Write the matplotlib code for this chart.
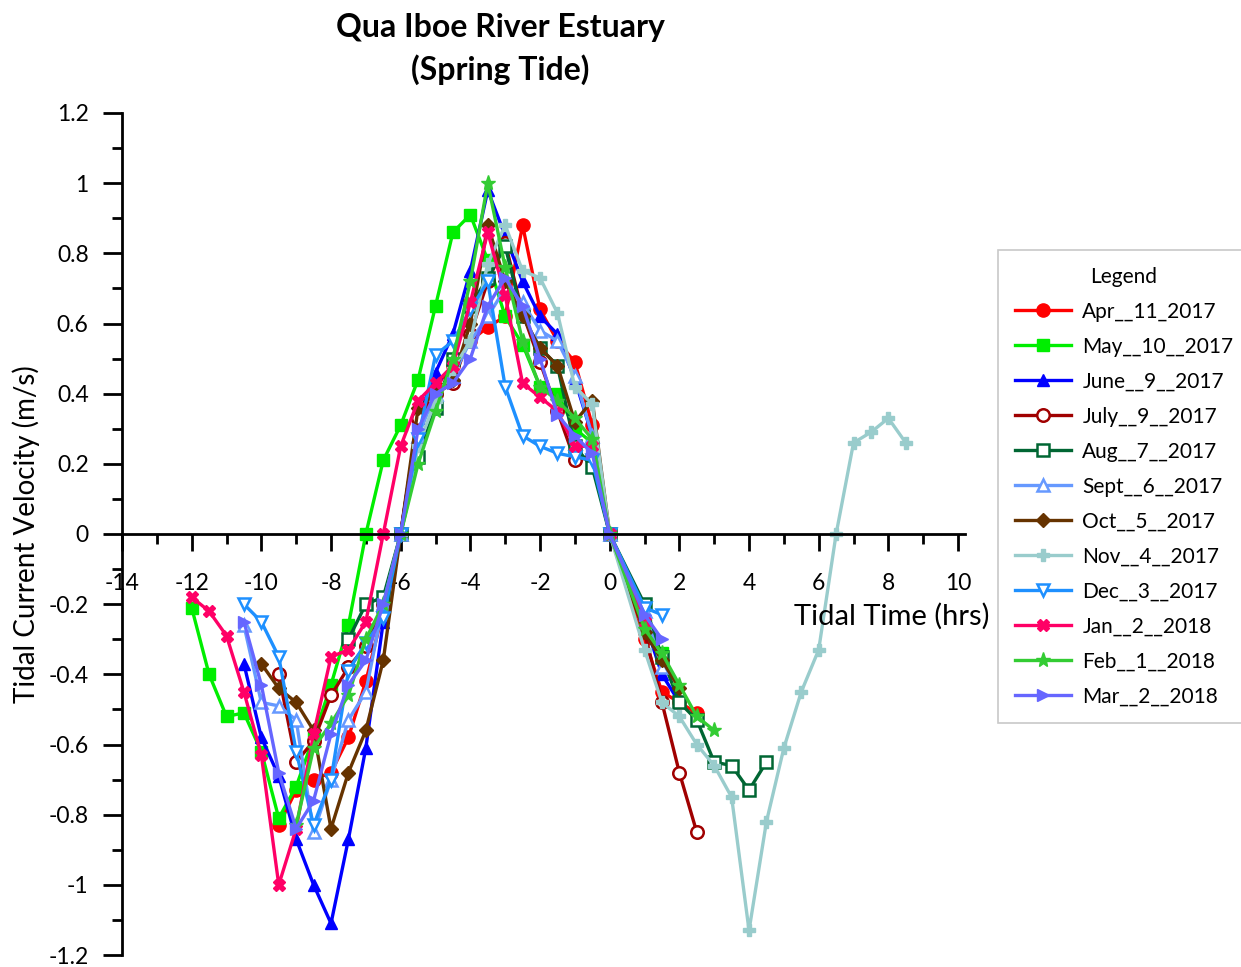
import matplotlib
matplotlib.use("Agg")
import matplotlib.pyplot as plt
from matplotlib.ticker import MultipleLocator, FuncFormatter

plt.rcParams['font.family'] = ['Lato', 'DejaVu Sans']

# tidal time (hrs) and current velocity (m/s) for each survey
apr_x = [-9.5, -9, -8.5, -8, -7.5, -7, -6.5, -6, -5.5, -5, -4.5, -4, -3.5, -3, -2.5, -2, -1.5, -1, -0.5, 0, 1, 1.5, 2, 2.5]
apr_y = [-0.83, -0.73, -0.70, -0.68, -0.58, -0.42, -0.22, 0, 0.33, 0.42, 0.48, 0.55, 0.59, 0.62, 0.88, 0.64, 0.55, 0.49, 0.31, 0, -0.30, -0.45, -0.48, -0.51]

may_x = [-12, -11.5, -11, -10.5, -10, -9.5, -9, -8.5, -8, -7.5, -7, -6.5, -6, -5.5, -5, -4.5, -4, -3.5, -3, -2.5, -2, -1.5, -1, -0.5, 0, 1, 1.5]
may_y = [-0.21, -0.40, -0.52, -0.51, -0.62, -0.81, -0.72, -0.58, -0.43, -0.26, 0, 0.21, 0.31, 0.44, 0.65, 0.86, 0.91, 0.78, 0.62, 0.54, 0.42, 0.40, 0.30, 0.26, 0, -0.26, -0.34]

jun_x = [-10.5, -10, -9.5, -9, -8.5, -8, -7.5, -7, -6.5, -6, -5.5, -5, -4.5, -4, -3.5, -3, -2.5, -2, -1.5, -1, -0.5, 0, 1, 1.5, 2]
jun_y = [-0.37, -0.58, -0.69, -0.87, -1.0, -1.11, -0.87, -0.61, -0.25, 0, 0.33, 0.46, 0.57, 0.75, 0.98, 0.85, 0.72, 0.62, 0.57, 0.44, 0.28, 0, -0.25, -0.40, -0.48]

jul_x = [-9.5, -9, -8.5, -8, -7.5, -7, -6.5, -6, -5.5, -5, -4.5, -4, -3.5, -3, -2.5, -2, -1.5, -1, -0.5, 0, 1, 1.5, 2, 2.5]
jul_y = [-0.40, -0.65, -0.59, -0.46, -0.38, -0.32, -0.20, 0, 0.33, 0.40, 0.43, 0.57, 0.72, 0.83, 0.63, 0.49, 0.35, 0.21, 0.22, 0, -0.28, -0.48, -0.68, -0.85]

aug_x = [-7.5, -7, -6.5, -6, -5.5, -5, -4.5, -4, -3.5, -3, -2.5, -2, -1.5, -1, -0.5, 0, 1, 1.5, 2, 2.5, 3, 3.5, 4, 4.5]
aug_y = [-0.30, -0.20, -0.18, 0, 0.22, 0.36, 0.50, 0.65, 0.73, 0.82, 0.62, 0.53, 0.48, 0.25, 0.19, 0, -0.20, -0.35, -0.48, -0.53, -0.65, -0.66, -0.73, -0.65]

sep_x = [-10.5, -10, -9.5, -9, -8.5, -8, -7.5, -7, -6.5, -6, -5.5, -5, -4.5, -4, -3.5, -3, -2.5, -2, -1.5, -1, -0.5, 0, 1, 1.5]
sep_y = [-0.26, -0.48, -0.49, -0.53, -0.85, -0.70, -0.53, -0.45, -0.20, 0, 0.28, 0.40, 0.45, 0.55, 0.62, 0.70, 0.66, 0.58, 0.55, 0.45, 0.28, 0, -0.22, -0.38]

oct_x = [-10, -9.5, -9, -8.5, -8, -7.5, -7, -6.5, -6, -5.5, -5, -4.5, -4, -3.5, -3, -2.5, -2, -1.5, -1, -0.5, 0, 1, 1.5, 2]
oct_y = [-0.37, -0.44, -0.48, -0.56, -0.84, -0.68, -0.56, -0.36, 0, 0.36, 0.40, 0.44, 0.60, 0.88, 0.72, 0.62, 0.53, 0.48, 0.32, 0.38, 0, -0.28, -0.36, -0.44]

nov_x = [-6, -5.5, -5, -4.5, -4, -3.5, -3, -2.5, -2, -1.5, -1, -0.5, 0, 1, 1.5, 2, 2.5, 3, 3.5, 4, 4.5, 5, 5.5, 6, 6.5, 7, 7.5, 8, 8.5]
nov_y = [0, 0.25, 0.38, 0.47, 0.55, 0.77, 0.88, 0.75, 0.73, 0.63, 0.42, 0.37, 0, -0.33, -0.48, -0.52, -0.60, -0.66, -0.75, -1.13, -0.82, -0.61, -0.45, -0.33, 0, 0.26, 0.29, 0.33, 0.26]

dec_x = [-10.5, -10, -9.5, -9, -8.5, -8, -7.5, -7, -6.5, -6, -5.5, -5, -4.5, -4, -3.5, -3, -2.5, -2, -1.5, -1, -0.5, 0, 1, 1.5]
dec_y = [-0.20, -0.25, -0.35, -0.62, -0.83, -0.70, -0.39, -0.31, -0.24, 0, 0.27, 0.51, 0.55, 0.64, 0.72, 0.42, 0.28, 0.25, 0.23, 0.22, 0.21, 0, -0.21, -0.23]

jan_x = [-12, -11.5, -11, -10.5, -10, -9.5, -9, -8.5, -8, -7.5, -7, -6.5, -6, -5.5, -5, -4.5, -4, -3.5, -3, -2.5, -2, -1.5, -1, -0.5, 0, 1]
jan_y = [-0.18, -0.22, -0.29, -0.45, -0.63, -1.0, -0.84, -0.57, -0.35, -0.33, -0.25, 0, 0.25, 0.38, 0.43, 0.48, 0.66, 0.86, 0.68, 0.43, 0.39, 0.35, 0.25, 0.25, 0, -0.25]

feb_x = [-9, -8.5, -8, -7.5, -7, -6.5, -6, -5.5, -5, -4.5, -4, -3.5, -3, -2.5, -2, -1.5, -1, -0.5, 0, 1, 1.5, 2, 2.5, 3]
feb_y = [-0.83, -0.61, -0.54, -0.46, -0.30, -0.20, 0, 0.20, 0.35, 0.50, 0.72, 1.0, 0.76, 0.55, 0.42, 0.38, 0.33, 0.27, 0, -0.27, -0.34, -0.43, -0.52, -0.56]

mar_x = [-10.5, -10, -9.5, -9, -8.5, -8, -7.5, -7, -6.5, -6, -5.5, -5, -4.5, -4, -3.5, -3, -2.5, -2, -1.5, -1, -0.5, 0, 1, 1.5]
mar_y = [-0.25, -0.43, -0.68, -0.84, -0.76, -0.57, -0.43, -0.36, -0.20, 0, 0.30, 0.40, 0.43, 0.50, 0.65, 0.73, 0.65, 0.50, 0.34, 0.28, 0.23, 0, -0.23, -0.30]

labels = ['Apr__11_2017', 'May__10__2017', 'June__9__2017', 'July__9__2017', 'Aug__7__2017',
          'Sept__6__2017', 'Oct__5__2017', 'Nov__4__2017', 'Dec__3__2017', 'Jan__2__2018',
          'Feb__1__2018', 'Mar__2__2018']

series = [(apr_x, apr_y), (may_x, may_y), (jun_x, jun_y), (jul_x, jul_y), (aug_x, aug_y),
          (sep_x, sep_y), (oct_x, oct_y), (nov_x, nov_y), (dec_x, dec_y), (jan_x, jan_y),
          (feb_x, feb_y), (mar_x, mar_y)]

# colour, marker, filled?, marker size
styles = [
    ('#FF0000', 'o', True, 9.5),
    ('#00EE00', 's', True, 9),
    ('#0000FF', '^', True, 9),
    ('#A00000', 'o', False, 9),
    ('#006633', 's', False, 9),
    ('#6699FF', '^', False, 9),
    ('#663300', 'D', True, 7),
    ('#99CCCC', 'P', True, 9),
    ('#1E90FF', 'v', False, 9),
    ('#FF0066', 'X', True, 9),
    ('#33CC33', '*', True, 11),
    ('#6666FF', '>', True, 9),
]

fig = plt.figure(figsize=(12.41, 9.67), dpi=100)
ax = fig.add_axes([122 / 1241, 12 / 967, (965 - 122) / 1241, (955 - 113) / 967])

for (xs, ys), lab, (col, mk, filled, ms) in zip(series, labels, styles):
    ax.plot(xs, ys, color=col, lw=2.4, marker=mk, ms=ms, label=lab,
            markerfacecolor=col if filled else 'white', markeredgecolor=col,
            markeredgewidth=1.8 if not filled else 1.0)

ax.set_xlim(-14, 10.2)
ax.set_ylim(-1.2, 1.2)

ax.spines['top'].set_visible(False)
ax.spines['right'].set_visible(False)
ax.spines['bottom'].set_position(('data', 0))
ax.spines['left'].set_linewidth(2)
ax.spines['bottom'].set_linewidth(2)

ax.xaxis.set_major_locator(MultipleLocator(2))
ax.xaxis.set_minor_locator(MultipleLocator(1))
ax.yaxis.set_major_locator(MultipleLocator(0.2))
ax.yaxis.set_minor_locator(MultipleLocator(0.1))


def fmt(v, pos):
    return '%g' % round(v, 2) if abs(v) > 1e-9 else '0'


ax.xaxis.set_major_formatter(FuncFormatter(fmt))
ax.yaxis.set_major_formatter(FuncFormatter(fmt))
ax.tick_params(axis='x', which='major', direction='out', length=12, width=2, labelsize=16.5, pad=16)
ax.tick_params(axis='x', which='minor', direction='out', length=7, width=2)
ax.tick_params(axis='y', which='major', direction='out', length=14, width=2, labelsize=16.5, pad=10)
ax.tick_params(axis='y', which='minor', direction='out', length=7, width=2)

ax.set_ylabel('Tidal Current Velocity (m/s)', fontsize=20, labelpad=6)
ax.text(8.1, -0.235, 'Tidal Time (hrs)', fontsize=21, ha='center', va='center')

fig.text(500 / 1241, 1 - 49 / 967, 'Qua Iboe River Estuary\n(Spring Tide)', fontsize=23,
         fontweight='bold', ha='center', va='center', linespacing=1.45)

leg = fig.legend(loc='upper left', bbox_to_anchor=(998 / 1241, 1 - 250 / 967), title='Legend',
                 fontsize=15, title_fontsize=15, frameon=True, fancybox=False,
                 borderaxespad=0, borderpad=0.8, handlelength=2.7, handletextpad=0.55,
                 labelspacing=0.72)
leg.get_frame().set_edgecolor('#BBBBBB')
leg.get_frame().set_linewidth(1.2)

fig.savefig('out.png', dpi=100)
